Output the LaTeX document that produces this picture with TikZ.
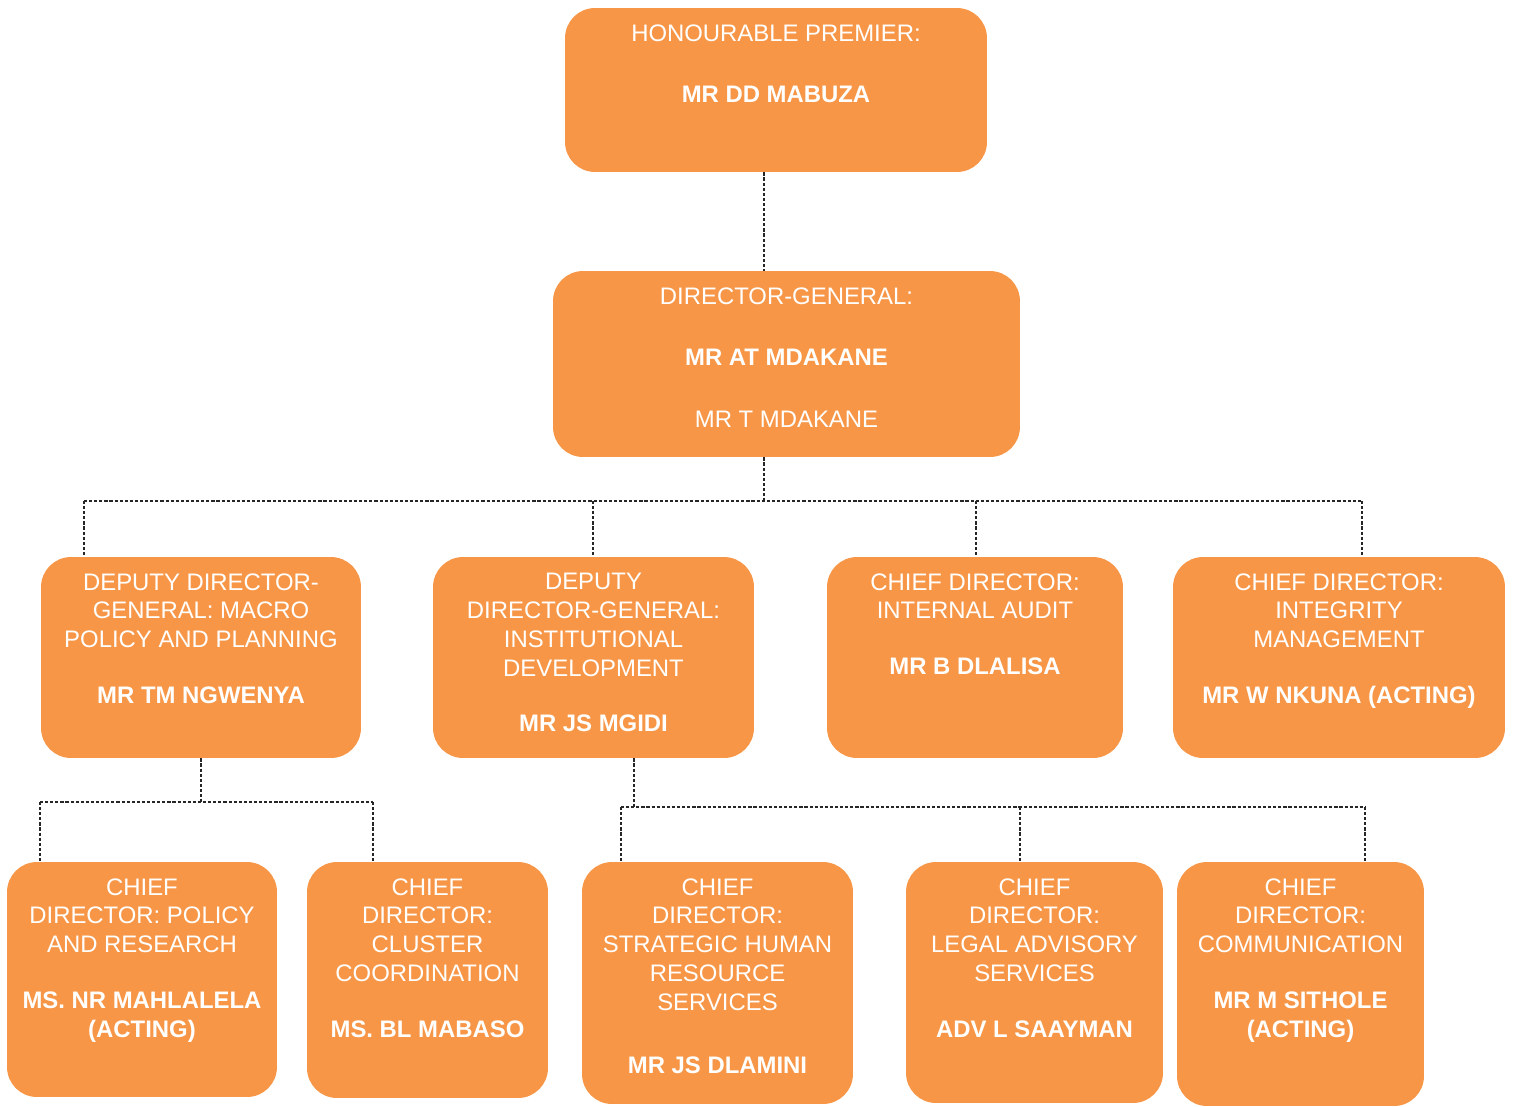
\documentclass[tikz,border=0pt]{standalone}
\usepackage{fontspec}
\setmainfont{Liberation Sans}
\usepackage{xcolor}
\definecolor{orgbox}{RGB}{247,150,70}

\begin{document}
\begin{tikzpicture}[x=0.02cm, y=-0.02cm,
  box/.style={fill=orgbox, rounded corners=0.6cm, inner sep=0pt},
  txt/.style={text=white, align=center, anchor=north, inner sep=0pt,
    font=\fontsize{13.6pt}{16.4pt}\selectfont},
  link/.style={draw=black!85, line width=0.7pt, dash pattern=on 1.8pt off 1.1pt}]

\useasboundingbox (0,0) rectangle (1514,1106);

% boxes
\node[box, minimum width=8.44cm, minimum height=3.28cm] (prem) at (776,90) {};
\node[box, minimum width=9.34cm, minimum height=3.72cm] (dg) at (786.5,364) {};

\node[box, minimum width=6.4cm, minimum height=4.02cm] (ddgmp) at (201,657.5) {};
\node[box, minimum width=6.42cm, minimum height=4.02cm] (ddgid) at (593.5,657.5) {};
\node[box, minimum width=5.92cm, minimum height=4.02cm] (cdia) at (975,657.5) {};
\node[box, minimum width=6.64cm, minimum height=4.02cm] (cdim) at (1339,657.5) {};

\node[box, minimum width=5.4cm, minimum height=4.7cm] (cdpr) at (142,979.5) {};
\node[box, minimum width=4.82cm, minimum height=4.72cm] (cdcc) at (427.5,980) {};
\node[box, minimum width=5.42cm, minimum height=4.84cm] (cdhr) at (717.5,983) {};
\node[box, minimum width=5.14cm, minimum height=4.82cm] (cdla) at (1034.5,982.5) {};
\node[box, minimum width=4.94cm, minimum height=4.88cm] (cdcom) at (1300.5,984) {};

% texts (top of first line)
\node[txt] (premT) at (776,24) {HONOURABLE PREMIER:\\[18.7pt] \textbf{MR DD MABUZA}};
\node[txt] (dgT) at (786.5,287) {DIRECTOR-GENERAL:\\[18.7pt] \textbf{MR AT MDAKANE}\\[18.7pt] MR T MDAKANE};

\node[txt] (ddgmpT) at (201,573) {DEPUTY DIRECTOR-\\GENERAL: MACRO\\POLICY AND PLANNING\\[15.3pt] \textbf{MR TM NGWENYA}};
\node[txt] (ddgidT) at (593.5,573) {DEPUTY\\DIRECTOR-GENERAL:\\INSTITUTIONAL\\DEVELOPMENT\\[15.3pt] \textbf{MR JS MGIDI}};
\node[txt] (cdiaT) at (975,573) {CHIEF DIRECTOR:\\INTERNAL AUDIT\\[15.3pt] \textbf{MR B DLALISA}};
\node[txt] (cdimT) at (1339,573) {CHIEF DIRECTOR:\\INTEGRITY\\MANAGEMENT\\[15.3pt] \textbf{MR W NKUNA (ACTING)}};

\node[txt] (cdprT) at (142,878) {CHIEF\\DIRECTOR: POLICY\\AND RESEARCH\\[15.3pt] \textbf{MS. NR MAHLALELA}\\\textbf{(ACTING)}};
\node[txt] (cdccT) at (427.5,878) {CHIEF\\DIRECTOR:\\CLUSTER\\COORDINATION\\[15.3pt] \textbf{MS. BL MABASO}};
\node[txt] (cdhrT) at (717.5,878) {CHIEF\\DIRECTOR:\\STRATEGIC HUMAN\\RESOURCE\\SERVICES\\[19.8pt] \textbf{MR JS DLAMINI}};
\node[txt] (cdlaT) at (1034.5,878) {CHIEF\\DIRECTOR:\\LEGAL ADVISORY\\SERVICES\\[15.3pt] \textbf{ADV L SAAYMAN}};
\node[txt] (cdcomT) at (1300.5,878) {CHIEF\\DIRECTOR:\\COMMUNICATION\\[15.3pt] \textbf{MR M SITHOLE}\\\textbf{(ACTING)}};

% first level
\coordinate (j0) at (764,501);
\coordinate (d1) at (84,501);
\coordinate (d2) at (593,501);
\coordinate (d3) at (976,501);
\coordinate (d4) at (1362,501);
\draw[link] (prem.south -| j0) -- (dg.north -| j0);
\draw[link] (dg.south -| j0) -- (j0);
\draw[link] (d1) -- (d4);
\foreach \n/\d in {ddgmp/d1, ddgid/d2, cdia/d3, cdim/d4}
  \draw[link] (\d) -- (\n.north -| \d);

% second level, left
\coordinate (e1) at (40,802);
\coordinate (e2) at (373,802);
\draw[link] (ddgmp.south) -- (ddgmp.south |- e1);
\draw[link] (e1) -- (e2);
\draw[link] (e1) -- (cdpr.north -| e1);
\draw[link] (e2) -- (cdcc.north -| e2);

% second level, right
\coordinate (f0) at (634,807);
\coordinate (f1) at (621,807);
\coordinate (f2) at (1020,807);
\coordinate (f3) at (1365,807);
\draw[link] (ddgid.south -| f0) -- (f0);
\draw[link] (f1) -- (f3);
\foreach \n/\f in {cdhr/f1, cdla/f2, cdcom/f3}
  \draw[link] (\f) -- (\n.north -| \f);

\end{tikzpicture}
\end{document}
